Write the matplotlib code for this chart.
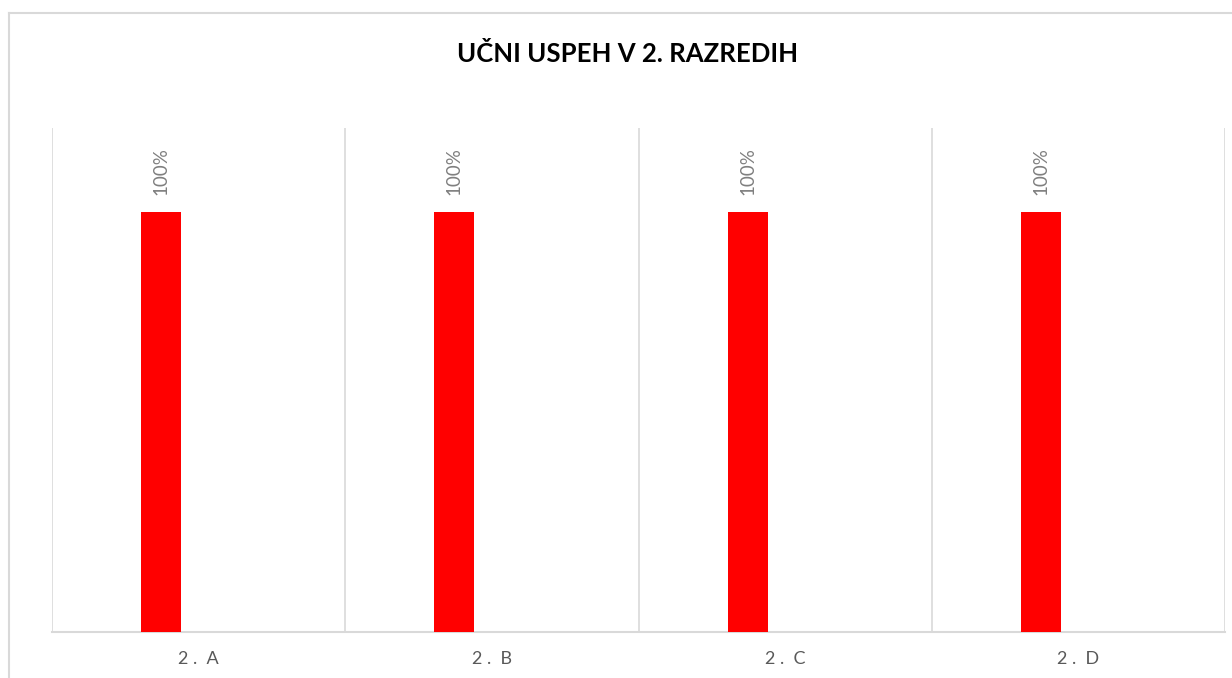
import matplotlib
matplotlib.use("Agg")
import matplotlib.pyplot as plt
from matplotlib.lines import Line2D
import numpy as np

title = "UČNI USPEH V 2. RAZREDIH"
categories = ["2. A", "2. B", "2. C", "2. D"]
values = [1.0, 1.0, 1.0, 1.0]

W, H = 1232, 678
fig = plt.figure(figsize=(W / 100, H / 100), dpi=100)
fig.patch.set_facecolor("white")

# outer chart frame
fc = "#d9d9d9"
fig.add_artist(Line2D([9 / W, 1.0], [1 - 13 / H, 1 - 13 / H], color=fc, lw=1.5, transform=fig.transFigure))
fig.add_artist(Line2D([9 / W, 9 / W], [0, 1 - 13 / H], color=fc, lw=1.5, transform=fig.transFigure))

left, right, top, bottom = 52, 1225, 128, 632
ax = fig.add_axes([left / W, 1 - bottom / H, (right - left) / W, (bottom - top) / H])

x = np.arange(len(categories))
bar_offset = -0.128
bar_width = 0.1365
bars = ax.bar(x + bar_offset, values, width=bar_width, color="#ff0000", zorder=3)

ax.set_xlim(-0.5, len(categories) - 0.5)
ax.set_ylim(0, 1.2)
for b, v in zip(bars, values):
    ax.annotate(f"{v:.0%}", (b.get_x() + b.get_width() / 2, v), xytext=(0, 12),
                textcoords="offset points", rotation=90, ha="center", va="bottom",
                color="#7f7f7f", fontsize=13.5, family=["Lato", "DejaVu Sans"])

# category boundary gridlines
for b in np.arange(-0.5, len(categories), 1.0):
    ax.axvline(b, color=fc, lw=1.2, zorder=1)

for s in ["top", "left", "right"]:
    ax.spines[s].set_visible(False)
ax.spines["bottom"].set_color(fc)
ax.spines["bottom"].set_linewidth(1.5)
ax.set_yticks([])
ax.set_xticks(x)
ax.set_xticklabels([" ".join(c.replace(" ", "")).replace(". ", ".  ") for c in categories],
                   color="#595959", fontsize=13, family=["Lato", "DejaVu Sans"])
ax.tick_params(axis="x", length=0, pad=14)

fig.text(0.509, 1 - 54 / H, title, ha="center", va="center",
         fontsize=18.5, fontweight="bold", color="black", family=["Lato", "DejaVu Sans"])

fig.savefig("out.png", dpi=100, facecolor="white")
